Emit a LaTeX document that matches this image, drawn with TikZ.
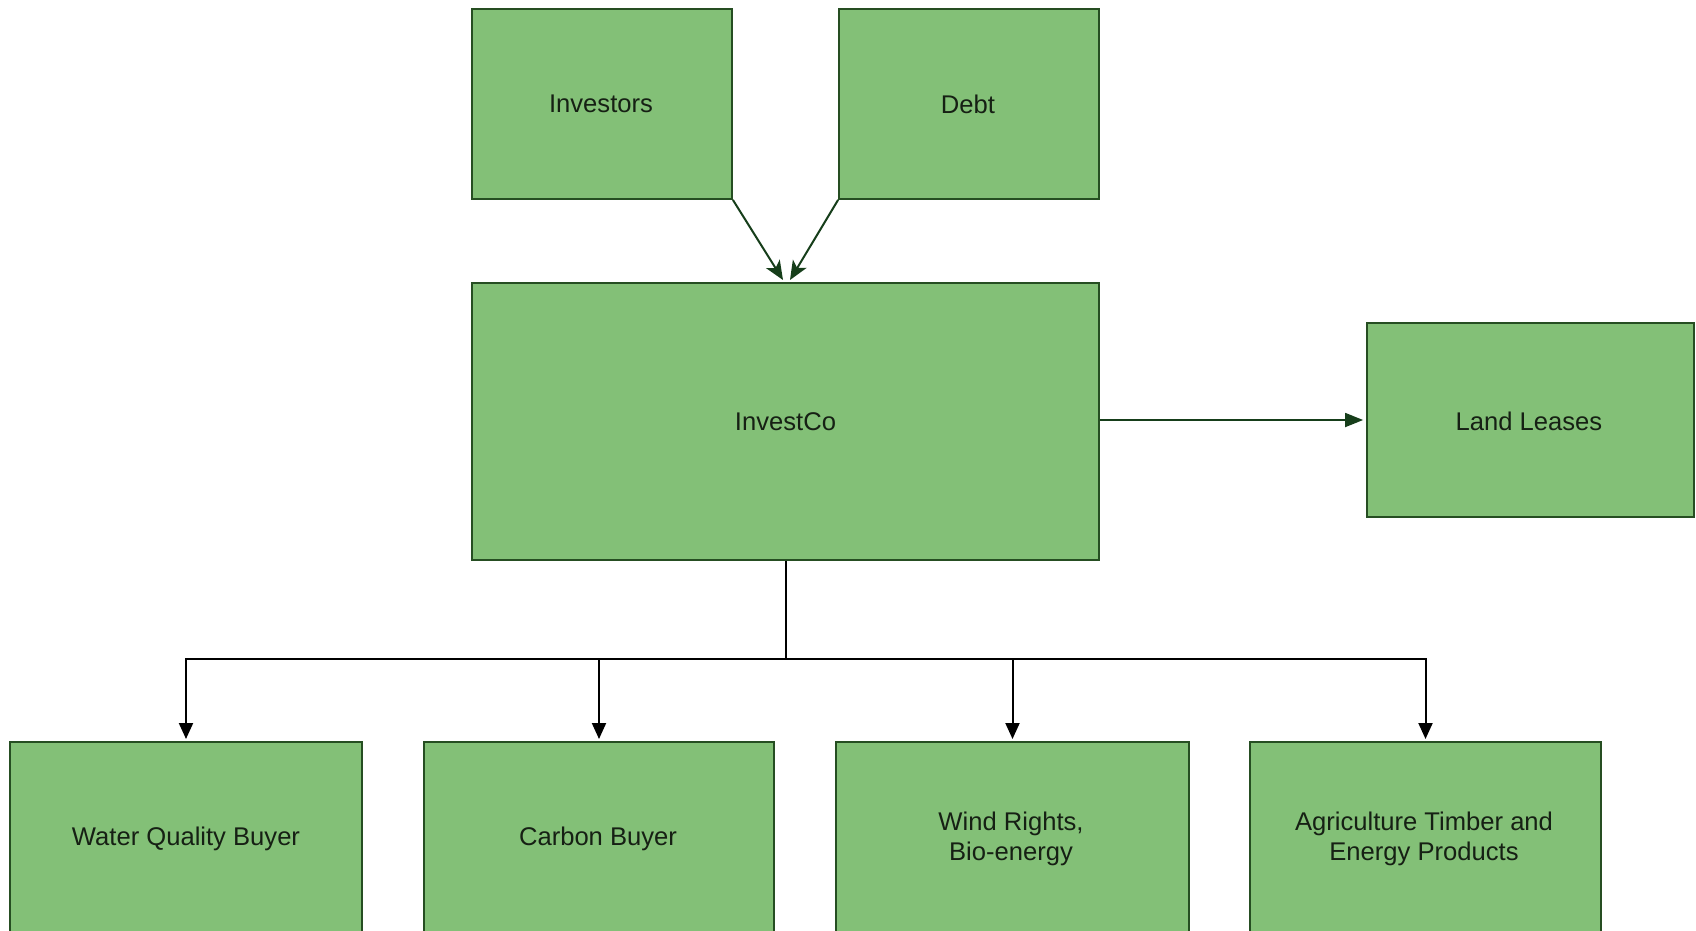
\documentclass[tikz,border=0pt]{standalone}
\usepackage{fontspec}
\setmainfont{Liberation Sans}
\usetikzlibrary{arrows.meta,calc}
\definecolor{boxfill}{RGB}{131,192,119}
\definecolor{boxline}{RGB}{38,78,34}
\definecolor{arrowgreen}{RGB}{22,62,26}
\definecolor{txt}{RGB}{22,32,20}
\tikzset{
  box/.style={draw=boxline, fill=boxfill, line width=1.8pt, inner sep=0pt},
  lbl/.style={text=txt, font=\fontsize{25.6}{30.5}\selectfont, align=center, inner sep=0pt},
  garrow/.style={draw=arrowgreen, line width=2pt, -{Stealth[length=19pt,width=16pt,inset=5pt]}},
  harrow/.style={draw=arrowgreen, line width=1.8pt, -{Triangle[length=18pt,width=14pt]}},
  barrow/.style={draw=black, line width=2pt, -{Triangle[length=16pt,width=14pt]}},
  bline/.style={draw=black, line width=2pt}
}
\begin{document}
\begin{tikzpicture}[x=1pt,y=-1pt]
\useasboundingbox (0,0) rectangle (1696,930);
\clip (0,0) rectangle (1696,930);
\fill[white] (0,0) rectangle (1696,930);
% top boxes
\node[box, minimum width=260pt, minimum height=190pt] (inv) at (602,104) {};
\node[lbl] (invT) at (601,104) {Investors};
\node[box, minimum width=260pt, minimum height=190pt] (debt) at (969,104) {};
\node[lbl] (debtT) at (968,104) {Debt};
% InvestCo
\node[box, minimum width=627pt, minimum height=277pt] (ic) at (785.5,421.5) {};
\node[lbl] (icT) at (785.5,421.5) {InvestCo};
% Land leases
\node[box, minimum width=327pt, minimum height=194pt] (land) at (1530.5,420) {};
\node[lbl] (landT) at (1529,421) {Land Leases};
% bottom boxes
\node[box, minimum width=352pt, minimum height=210pt, anchor=north] (water) at (186,741) {};
\node[lbl] (waterT) at (186,839) {Water Quality Buyer};
\node[box, minimum width=350pt, minimum height=210pt, anchor=north] (carbon) at (599,741) {};
\node[lbl] (carbonT) at (598,839) {Carbon Buyer};
\node[box, minimum width=353pt, minimum height=210pt, anchor=north] (wind) at (1012.5,741) {};
\node[lbl] (windT) at (1011,839) {Wind Rights,\\Bio-energy};
\node[box, minimum width=351pt, minimum height=210pt, anchor=north] (agri) at (1425.5,741) {};
\node[lbl] (agriT) at (1424,839) {Agriculture Timber and\\Energy Products};
% connectors
\coordinate (inEndL) at (783,280);
\coordinate (inEndR) at (790,280);
\draw[garrow] (inv.south east) -- (inEndL);
\draw[garrow] (debt.south west) -- (inEndR);
\coordinate (landIn) at ($(land.west)+(-3,0)$);
\draw[harrow] (ic.east |- landIn) -- (landIn);
\coordinate (bus) at (785.5,659);
\draw[bline] (ic.south) -- (bus);
\draw[barrow] (bus) -| ($(water.north)+(0,-2)$);
\draw[barrow] (bus) -| ($(carbon.north)+(0,-2)$);
\draw[barrow] (bus) -| ($(wind.north)+(0,-2)$);
\draw[barrow] (bus) -| ($(agri.north)+(0,-2)$);
\end{tikzpicture}
\end{document}
